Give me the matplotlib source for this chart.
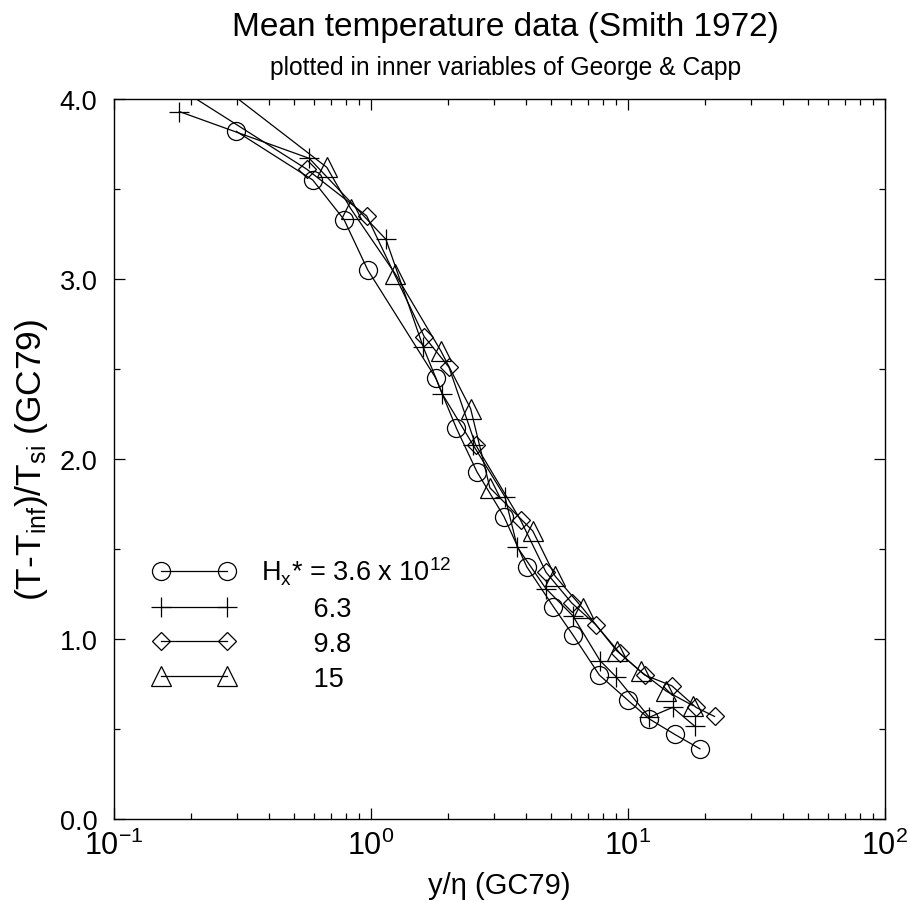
import matplotlib
matplotlib.use("Agg")
import matplotlib.pyplot as plt
from matplotlib.ticker import LogLocator, MultipleLocator, FormatStrFormatter

plt.rcParams['font.family'] = ['Liberation Sans', 'DejaVu Sans']
plt.rcParams['mathtext.fontset'] = 'custom'
plt.rcParams['mathtext.rm'] = 'Liberation Sans'
plt.rcParams['mathtext.it'] = 'Liberation Sans'
plt.rcParams['mathtext.default'] = 'regular'

# Smith (1972) mean temperature data, inner variables of George & Capp
# H_x* = 3.6e12
x_36 = [0.299, 0.593, 0.785, 0.971, 1.785, 2.15, 2.58, 3.29, 4.04, 5.12,
        6.12, 7.73, 9.98, 12.1, 15.2, 19.05]
y_36 = [3.82, 3.55, 3.33, 3.05, 2.45, 2.17, 1.93, 1.68, 1.40, 1.18,
        1.02, 0.80, 0.66, 0.556, 0.47, 0.39]
# H_x* = 6.3
x_63 = [0.1795, 0.575, 1.143, 1.598, 1.896, 2.49, 3.32, 3.71, 4.79, 6.09,
        7.78, 8.98, 12.1, 14.9, 18.2]
y_63 = [3.93, 3.67, 3.22, 2.62, 2.36, 2.08, 1.79, 1.51, 1.28, 1.13,
        0.88, 0.79, 0.565, 0.62, 0.515]
# H_x* = 9.8
x_98 = [0.15, 0.562, 0.962, 1.61, 2.01, 2.55, 3.82, 4.80, 6.04, 7.48,
        9.31, 11.6, 14.8, 18.4, 21.7]
y_98 = [4.13, 3.61, 3.35, 2.68, 2.51, 2.08, 1.66, 1.37, 1.20, 1.08,
        0.92, 0.80, 0.74, 0.62, 0.57]
# H_x* = 15
x_15 = [0.2, 0.673, 0.834, 1.24, 1.87, 2.44, 2.90, 4.26, 5.2, 6.67,
        9.03, 11.2, 14.1, 17.9]
y_15 = [4.2, 3.62, 3.39, 3.03, 2.60, 2.28, 1.84, 1.60, 1.35, 1.17,
        0.935, 0.82, 0.71, 0.63]

labels = ["H$_x$* = 3.6 x 10$^{12}$", "       6.3", "       9.8", "       15"]

fig = plt.figure(figsize=(9.08, 9.03), dpi=100)
ax = fig.add_axes([0.1256, 0.0919, 0.8491, 0.7974])

lw = 0.9
ax.plot(x_36, y_36, 'k-', marker='o', ms=13, mfc='none', mec='k', mew=0.9, lw=lw, label=labels[0])
ax.plot(x_63, y_63, 'k-', marker='+', ms=14, mec='k', mew=0.9, lw=lw, label=labels[1])
ax.plot(x_98, y_98, 'k-', marker='D', ms=9.5, mfc='none', mec='k', mew=0.9, lw=lw, label=labels[2])
ax.plot(x_15, y_15, 'k-', marker='^', ms=14, mfc='none', mec='k', mew=0.9, lw=lw, label=labels[3])

ax.set_xscale('log')
ax.set_xlim(0.1, 100)
ax.set_ylim(0, 4)
ax.yaxis.set_major_locator(MultipleLocator(1.0))
ax.yaxis.set_minor_locator(MultipleLocator(0.5))
ax.yaxis.set_major_formatter(FormatStrFormatter('%.1f'))
ax.xaxis.set_major_locator(LogLocator(base=10, numticks=10))
ax.xaxis.set_minor_locator(LogLocator(base=10, subs=range(2, 10), numticks=20))

ax.tick_params(which='both', direction='in', top=True, right=True, width=0.9)
ax.tick_params(which='major', length=8)
ax.tick_params(which='minor', length=4.5)
ax.tick_params(axis='y', pad=12, labelsize=19.5)
ax.tick_params(axis='x', pad=8, labelsize=22)
for s in ax.spines.values():
    s.set_linewidth(1.0)

ax.set_xlabel("y/\u03b7 (GC79)", fontsize=21, labelpad=7)
ax.set_ylabel("(T-T$_{inf}$)/T$_{si}$ (GC79)", fontsize=25.5, labelpad=7)

fig.text(0.557, 0.970, "Mean temperature data (Smith 1972)", ha='center', va='center', fontsize=24)
fig.text(0.557, 0.925, "plotted in inner variables of George & Capp", ha='center', va='center', fontsize=17.7)

leg = ax.legend(loc='upper left', bbox_to_anchor=(0.050, 0.367), frameon=False,
                numpoints=2, handlelength=3.04, handletextpad=0.95, borderpad=0,
                labelspacing=0.33, fontsize=19.5, borderaxespad=0)

fig.savefig("out.png", dpi=100)
